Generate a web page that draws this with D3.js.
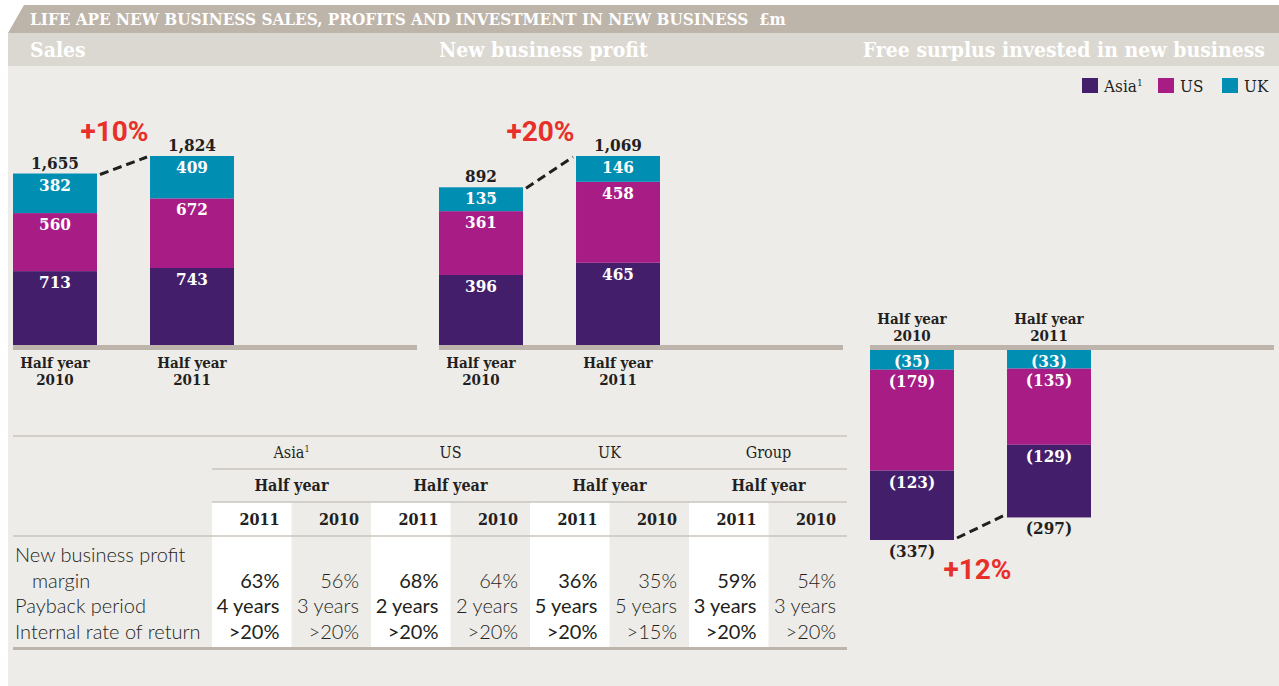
<!DOCTYPE html>
<html>
<head>
<meta charset="utf-8">
<script src="https://cdn.jsdelivr.net/npm/d3@7"></script>
<style>
  body { margin: 0; background: #fff; }
  svg { display: block; }
  .slab { font-family: 'DejaVu Serif Condensed', 'DejaVu Serif', serif; font-stretch: condensed; }
  .sans { font-family: Lato, 'Open Sans', sans-serif; }
  .pct { font-family: Roboto, 'Liberation Sans', sans-serif; font-weight: 700; }
</style>
</head>
<body>
<svg id="chart" width="1279" height="686"></svg>
<script>
// chart data
const categories = ['2010', '2011']
const regions = ['Asia', 'US', 'UK']

const salesAsia = [713, 743]
const salesUS = [560, 672]
const salesUK = [382, 409]

const profitAsia = [396, 465]
const profitUS = [361, 458]
const profitUK = [135, 146]

const surplusAsia = [123, 129]
const surplusUS = [179, 135]
const surplusUK = [35, 33]

const changes = ['+10%', '+20%', '+12%']

// table data
const tableGroups = ['Asia', 'US', 'UK', 'Group']
const tableYears = ['2011', '2010']
const rowLabels = ['Payback period', 'Internal rate of return']
const marginValues = ['63%', '56%', '68%', '64%', '36%', '35%', '59%', '54%']
const paybackValues = ['4 years', '3 years', '2 years', '2 years', '5 years', '5 years', '3 years', '3 years']
const irrValues = ['>20%', '>20%', '>20%', '>20%', '>20%', '>15%', '>20%', '>20%']

const colors = { Asia: '#431f6b', US: '#a81c86', UK: '#008fb3' }
const ink = '#231f20'
const rule = '#bdb5ac'

const svg = d3.select('#chart')

// backgrounds
svg.append('rect').attr('x', 8).attr('y', 66).attr('width', 1271).attr('height', 620).attr('fill', '#eeece9')
svg.append('rect').attr('x', 8).attr('y', 33).attr('width', 1271).attr('height', 33).attr('fill', '#dbd8d1')
svg.append('polygon').attr('points', '24,5 1279,5 1279,33 8,33').attr('fill', '#bdb4aa')

svg.append('text').attr('class', 'slab')
  .attr('x', 30).attr('y', 25)
  .attr('fill', '#fff').attr('font-weight', 700).attr('font-size', 17)
  .text('LIFE APE NEW BUSINESS SALES, PROFITS AND INVESTMENT IN NEW BUSINESS\u00a0\u00a0£m')

const heads = [
  { text: 'Sales', x: 30, anchor: 'start' },
  { text: 'New business profit', x: 439, anchor: 'start' },
  { text: 'Free surplus invested in new business', x: 1265, anchor: 'end' }
]
svg.selectAll('.head').data(heads).enter().append('text')
  .attr('class', 'slab head')
  .attr('x', d => d.x).attr('y', 57)
  .attr('text-anchor', d => d.anchor)
  .attr('fill', '#fff').attr('font-weight', 700).attr('font-size', 21)
  .text(d => d.text)

// legend
const legendX = [1082, 1158, 1222]
const legend = svg.selectAll('.legend').data(regions).enter().append('g')
  .attr('class', 'legend')
  .attr('transform', (d, i) => 'translate(' + legendX[i] + ',78)')
legend.append('rect').attr('width', 16).attr('height', 15).attr('fill', d => colors[d])
const lt = legend.append('text').attr('class', 'slab')
  .attr('x', 22).attr('y', 14).attr('font-size', 17).attr('fill', ink)
  .text(d => d)
lt.filter(d => d === 'Asia').append('tspan').attr('font-size', 10).attr('dy', -6).text('1')

function drawPanel(p) {
  const rows = categories.map((c, i) => ({ cat: c, Asia: p.asia[i], US: p.us[i], UK: p.uk[i] }))
  const keys = p.negative ? ['UK', 'US', 'Asia'] : ['Asia', 'US', 'UK']
  const stacked = d3.stack().keys(keys)(rows)
  const totals = rows.map(r => r.Asia + r.US + r.UK)
  const maxTotal = d3.max(totals)

  const x = d3.scaleBand().domain(categories).range([p.x0, p.x0 + 221]).paddingInner(0.387)
  const y = d3.scaleLinear().domain([0, maxTotal])
    .range(p.negative ? [350, 540] : [345, 156])
  const bw = x.bandwidth()
  const g = svg.append('g')

  // base rule
  g.append('rect').attr('x', p.x0).attr('y', 345).attr('width', 404).attr('height', 5).attr('fill', rule)

  const layer = g.selectAll('.layer').data(stacked).enter().append('g')
    .attr('fill', d => colors[d.key])
  layer.selectAll('rect').data(d => d).enter().append('rect')
    .attr('x', d => x(d.data.cat))
    .attr('y', d => Math.min(y(d[0]), y(d[1])))
    .attr('width', bw)
    .attr('height', d => Math.abs(y(d[1]) - y(d[0])))

  layer.selectAll('text').data(d => d.map(s => Object.assign({ key: d.key }, s))).enter().append('text')
    .attr('class', 'slab')
    .attr('x', d => x(d.data.cat) + bw / 2)
    .attr('y', d => Math.min(y(d[0]), y(d[1])) + 17)
    .attr('text-anchor', 'middle')
    .attr('fill', '#fff').attr('font-weight', 700).attr('font-size', 17)
    .text(d => {
      const v = d.data[d.key]
      return p.negative ? '(' + v + ')' : v
    })

  // totals
  g.selectAll('.total').data(totals).enter().append('text')
    .attr('class', 'slab total')
    .attr('x', (d, i) => x(categories[i]) + bw / 2)
    .attr('y', d => p.negative ? y(d) + 17 : y(d) - 5)
    .attr('text-anchor', 'middle')
    .attr('fill', ink).attr('font-weight', 700).attr('font-size', 17)
    .text(d => p.negative ? '(' + d + ')' : d3.format(',')(d))

  // dashed connector
  const off = p.negative ? -2 : 1
  g.append('line')
    .attr('x1', x(categories[0]) + bw + 3).attr('y1', y(totals[0]) + off)
    .attr('x2', x(categories[1]) - 3).attr('y2', y(totals[1]) + off)
    .attr('stroke', ink).attr('stroke-width', 3).attr('stroke-dasharray', '9,5')

  // change label
  const gapMid = (x(categories[0]) + bw + x(categories[1])) / 2
  g.append('text').attr('class', 'pct')
    .attr('x', p.negative ? gapMid - 3 : gapMid - 9)
    .attr('y', p.negative ? y(totals[0]) + 39 : y(totals[1]) - 15)
    .attr('text-anchor', 'middle')
    .attr('fill', '#e8302a').attr('font-size', 28)
    .text(p.change)

  // category labels
  const cy = p.negative ? [324, 341] : [368, 385]
  const cl = g.selectAll('.cat').data(categories).enter().append('text')
    .attr('class', 'slab cat')
    .attr('text-anchor', 'middle')
    .attr('fill', ink).attr('font-weight', 700).attr('font-size', 15)
  cl.append('tspan').attr('x', d => x(d) + bw / 2).attr('y', cy[0]).text('Half year')
  cl.append('tspan').attr('x', d => x(d) + bw / 2).attr('y', cy[1]).text(d => d)
}

drawPanel({ x0: 13, asia: salesAsia, us: salesUS, uk: salesUK, change: changes[0] })
drawPanel({ x0: 439, asia: profitAsia, us: profitUS, uk: profitUK, change: changes[1] })
drawPanel({ x0: 870, asia: surplusAsia, us: surplusUS, uk: surplusUK, change: changes[2], negative: true })

// table
const cols = d3.range(8)
const cx = d3.scaleBand().domain(cols).range([212, 848])
const gx = d3.scaleBand().domain(tableGroups).range([212, 848])
const t = svg.append('g')

t.selectAll('.white').data(cols.filter(i => i % 2 === 0)).enter().append('rect')
  .attr('x', i => cx(i)).attr('y', 502)
  .attr('width', cx.bandwidth()).attr('height', 146)
  .attr('fill', '#fff')

const hLines = [
  { y: 436, x1: 13 },
  { y: 469, x1: 212 },
  { y: 502, x1: 212 },
  { y: 536, x1: 13 }
]
t.selectAll('.hl').data(hLines).enter().append('line')
  .attr('x1', d => d.x1).attr('x2', 847)
  .attr('y1', d => d.y).attr('y2', d => d.y)
  .attr('stroke', '#cbc4bc').attr('stroke-width', 1.5)
t.append('rect').attr('x', 13).attr('y', 647).attr('width', 834).attr('height', 3).attr('fill', rule)

const gh = t.selectAll('.gh').data(tableGroups).enter().append('text')
  .attr('class', 'slab gh')
  .attr('x', d => gx(d) + gx.bandwidth() / 2).attr('y', 458)
  .attr('text-anchor', 'middle').attr('font-size', 16).attr('fill', ink)
  .text(d => d)
gh.filter(d => d === 'Asia').append('tspan').attr('font-size', 9).attr('dy', -6).text('1')

t.selectAll('.hy').data(tableGroups).enter().append('text')
  .attr('class', 'slab hy')
  .attr('x', d => gx(d) + gx.bandwidth() / 2).attr('y', 491)
  .attr('text-anchor', 'middle').attr('font-size', 16).attr('font-weight', 700).attr('fill', ink)
  .text('Half year')

t.selectAll('.yr').data(cols).enter().append('text')
  .attr('class', 'slab yr')
  .attr('x', i => cx(i) + cx.bandwidth() - 12).attr('y', 525)
  .attr('text-anchor', 'end').attr('font-size', 16).attr('font-weight', 700).attr('fill', ink)
  .text(i => tableYears[i % 2])

const labelText = t.append('text').attr('class', 'sans')
  .attr('font-size', 20).attr('font-weight', 300).attr('fill', ink)
labelText.append('tspan').attr('x', 15).attr('y', 562).text('New business profit')
labelText.append('tspan').attr('x', 32).attr('y', 588).text('margin')
labelText.selectAll('.rl').data(rowLabels).enter().append('tspan')
  .attr('x', 15).attr('y', (d, i) => 613 + i * 26)
  .text(d => d)

const bodyRows = [
  { y: 588, values: marginValues },
  { y: 613, values: paybackValues },
  { y: 639, values: irrValues }
]
bodyRows.forEach(r => {
  t.selectAll(null).data(r.values).enter().append('text')
    .attr('class', 'sans')
    .attr('x', (d, i) => cx(i) + cx.bandwidth() - 12)
    .attr('y', r.y)
    .attr('text-anchor', 'end').attr('font-size', 20)
    .attr('font-weight', (d, i) => i % 2 === 0 ? 400 : 300)
    .attr('fill', ink)
    .text(d => d)
})
</script>
</body>
</html>
